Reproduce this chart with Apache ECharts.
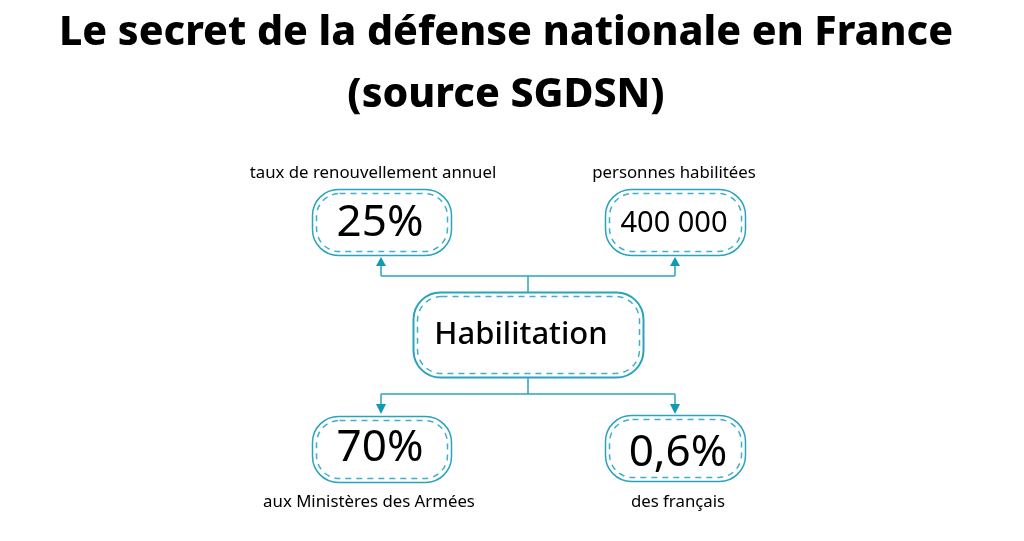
<!DOCTYPE html>
<html>
<head>
<meta charset="utf-8">
<style>html,body{margin:0;background:#fff}#main{width:1024px;height:541px}</style>
<script src="https://cdn.jsdelivr.net/npm/echarts@6/dist/echarts.min.js"></script>
</head>
<body>
<div id="main"></div>
<script type="text/javascript">
var titleLines = ['Le secret de la défense nationale en France', '(source SGDSN)'];
var centerLabel = 'Habilitation';
var values = ['25%', '400 000', '70%', '0,6%'];
var captions = ['taux de renouvellement annuel', 'personnes habilitées', 'aux Ministères des Armées', 'des français'];

var myChart = echarts.init(document.getElementById('main'));
var TEAL = '#2ba3bd', DASH = '#3fb0c8', ARROW = '#0f9ab6', FONT = 'Noto Sans';

// layout of the boxes, same order as values
var layout = [
  {x: 312, y: 189, w: 139, h: 66, cx: 380, cy: 223, size: 44, capX: 373, capY: 173},
  {x: 605, y: 189, w: 140, h: 66, cx: 674, cy: 224, size: 29, capX: 674, capY: 173},
  {x: 312, y: 416, w: 139, h: 66, cx: 380, cy: 448, size: 44, capX: 369, capY: 502},
  {x: 605, y: 415, w: 140, h: 66, cx: 678, cy: 453, size: 44, capX: 678, capY: 502}
];

function box(x, y, w, h, r, lw) {
  return [
    {type: 'rect', shape: {x: x, y: y, width: w, height: h, r: r},
     style: {fill: '#fff', stroke: TEAL, lineWidth: lw}},
    {type: 'rect', shape: {x: x + 4, y: y + 4, width: w - 8, height: h - 8, r: r - 3},
     style: {fill: 'none', stroke: DASH, lineWidth: 1.5, lineDash: [6, 5]}}
  ];
}
function label(t, x, y, size, weight, color) {
  return {type: 'text', x: x, y: y,
    style: {text: t, align: 'center', verticalAlign: 'middle', fill: color || '#000',
      font: (weight || 400) + ' ' + size + 'px "' + FONT + '"'}};
}
function line(x1, y1, x2, y2) {
  return {type: 'line', shape: {x1: x1, y1: y1, x2: x2, y2: y2}, style: {stroke: TEAL, lineWidth: 1.5}};
}
function arrow(x, tip, base) {
  return {type: 'polygon', shape: {points: [[x, tip], [x - 5, base], [x + 5, base]]}, style: {fill: ARROW}};
}

var items = [
  label(titleLines[0], 506, 33, 41, 800),
  label(titleLines[1], 506, 95, 41, 800),
  // connecteurs
  line(528, 276, 528, 292), line(381, 276, 675, 276),
  line(381, 266, 381, 276), line(675, 266, 675, 276),
  arrow(381, 257, 266), arrow(675, 257, 266),
  line(528, 378, 528, 394), line(381, 394, 675, 394),
  line(381, 394, 381, 405), line(675, 394, 675, 405),
  arrow(381, 414, 404), arrow(675, 414, 404)
];
items = items.concat(box(413.5, 292.5, 230, 85, 27, 2));
items.push(label(centerLabel, 521, 335, 31, 500));
values.forEach(function (v, i) {
  var b = layout[i];
  items = items.concat(box(b.x + .5, b.y + .5, b.w, b.h, 26, 1.5));
  items.push(label(v, b.cx, b.cy, b.size));
  items.push(label(captions[i], b.capX, b.capY, 16.8));
});

var option = {
  backgroundColor: '#fff',
  animation: false,
  graphic: {elements: items}
};
myChart.setOption(option);
</script>
</body>
</html>
